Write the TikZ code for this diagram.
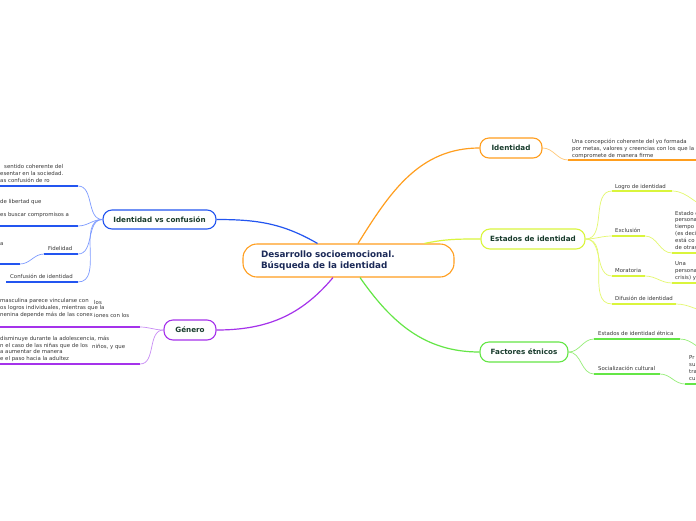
\documentclass[tikz,border=0pt]{standalone}
\usepackage{fontspec}
\setmainfont{DejaVu Sans}
\definecolor{cOrange}{RGB}{255,158,30}
\definecolor{cOrangeL}{RGB}{255,200,120}
\definecolor{cYel}{RGB}{218,245,60}
\definecolor{cYelL}{RGB}{228,248,110}
\definecolor{cGreen}{RGB}{100,230,70}
\definecolor{cGreenL}{RGB}{150,238,120}
\definecolor{cBlue}{RGB}{35,85,240}
\definecolor{cBlueL}{RGB}{125,155,255}
\definecolor{cPurp}{RGB}{165,50,235}
\definecolor{cPurpL}{RGB}{200,140,245}
\definecolor{nodetext}{RGB}{25,60,45}
\definecolor{maintext}{RGB}{28,42,88}
\definecolor{leaftext}{RGB}{55,55,55}
\begin{document}
\begin{tikzpicture}[x=1pt,y=-1pt,
  topic/.style={draw, fill=white, rounded corners=9pt, line width=1.1pt, inner sep=0pt,
    minimum height=20pt, font=\fontsize{7.2}{8}\selectfont\bfseries, text=nodetext},
  mainbox/.style={draw=cOrange, fill=white, rounded corners=14pt, line width=1.1pt,
    inner xsep=18pt, inner ysep=0pt, minimum height=33pt, text width=175pt, align=left,
    font=\fontsize{8.8}{11}\selectfont\bfseries, text=maintext},
  leaf/.style={font=\fontsize{5.4}{6.8}\selectfont, text=leaftext, align=left,
    inner sep=0pt, anchor=base west},
  uline/.style={line width=1.7pt},
  lconn/.style={line width=0.7pt},
  mconn/.style={line width=1.2pt}]
\useasboundingbox (0,0) rectangle (696,520);
\clip (0,0) rectangle (696,520);
\fill[white] (0,0) rectangle (696,520);

% ---------- main and topic nodes ----------
\node[mainbox] (main) at (348.5,260.5) {Desarrollo socioemocional.\\Búsqueda de la identidad};
\node[topic, draw=cOrange, minimum width=62pt] (iden) at (511,148) {Identidad};
\node[topic, draw=cYel, minimum width=104pt] (est) at (533,239) {Estados de identidad};
\node[topic, draw=cGreen, minimum width=88pt] (fac) at (524,352) {Factores étnicos};
\node[topic, draw=cBlue, minimum width=113pt, minimum height=19pt] (idc) at (159.5,219.5) {Identidad vs confusión};
\node[topic, draw=cPurp, minimum width=52pt] (gen) at (190,330) {Género};

% ---------- main connectors ----------
\draw[mconn, cOrange] ([xshift=9.5pt]main.north) to[out=58,in=180] (iden.west);
\draw[mconn, cYel] ([xshift=76pt]main.north) to[out=12,in=180] (est.west);
\draw[mconn, cGreen] ([xshift=11.5pt]main.south) to[out=-55,in=180] (fac.west);
\draw[mconn, cBlue] ([xshift=-31pt]main.north) to[out=150,in=0] (idc.east);
\draw[mconn, cPurp] ([xshift=-15.5pt]main.south) to[out=-130,in=0] (gen.east);

% ---------- Identidad leaf ----------
\coordinate (a1) at (568,160); \coordinate (a1e) at (700,160);
\draw[uline, cOrange] (a1) -- (a1e);
\draw[lconn, cOrangeL] (iden.east) to[out=0,in=180] (a1);
\node[leaf] (ta1) at (572,157) {Una concepción coherente del yo formada\\por metas, valores y creencias con los que la\\compromete de manera firme};

% ---------- Estados leaves ----------
\coordinate (b1) at (612,191); \coordinate (b1e) at (672,191);
\coordinate (b2) at (612,236); \coordinate (b2e) at (645,236);
\coordinate (b3) at (612,276); \coordinate (b3e) at (645,276);
\coordinate (b4) at (612,304); \coordinate (b4e) at (676,304);
\coordinate (b2c) at (672,253); \coordinate (b2ce) at (700,253);
\coordinate (b3c) at (672,283); \coordinate (b3ce) at (700,283);
\coordinate (b1x) at (712,207); \coordinate (b4x) at (712,312);
\foreach \s/\e in {b1/b1e,b2/b2e,b3/b3e,b4/b4e,b2c/b2ce,b3c/b3ce}
  \draw[uline, cYel] (\s) -- (\e);
\foreach \t in {b1,b2,b3,b4}
  \draw[lconn, cYelL] (est.east) to[out=0,in=180] (\t);
\draw[lconn, cYelL] (b1e) to[out=0,in=180] (b1x);
\draw[lconn, cYelL] (b2e) to[out=0,in=180] (b2c);
\draw[lconn, cYelL] (b3e) to[out=0,in=180] (b3c);
\draw[lconn, cYelL] (b4e) to[out=0,in=180] (b4x);
\node[leaf] (tb1) at (615,188) {Logro de identidad};
\node[leaf] (tb2) at (615,232) {Exclusión};
\node[leaf] (tb3) at (615,272) {Moratoria};
\node[leaf] (tb4) at (615,300) {Difusión de identidad};
\node[leaf] (tb2c) at (675,249) {Estado d\\persona\\tiempo\\(es deci\\está co\\de otras};
\node[leaf] (tb3c) at (675,279) {Una\\persona\\crisis) y};

% ---------- Factores leaves ----------
\coordinate (c1) at (594,339); \coordinate (c1e) at (680,339);
\coordinate (c2) at (594,374); \coordinate (c2e) at (660,374);
\coordinate (c2c) at (685,384); \coordinate (c2ce) at (700,384);
\coordinate (c1x) at (712,352);
\foreach \s/\e in {c1/c1e,c2/c2e,c2c/c2ce}
  \draw[uline, cGreen] (\s) -- (\e);
\draw[lconn, cGreenL] (fac.east) to[out=0,in=180] (c1);
\draw[lconn, cGreenL] (fac.east) to[out=0,in=180] (c2);
\draw[lconn, cGreenL] (c1e) to[out=0,in=180] (c1x);
\draw[lconn, cGreenL] (c2e) to[out=0,in=180] (c2c);
\node[leaf] (tc1) at (598,335) {Estados de identidad étnica};
\node[leaf] (tc2) at (598,370) {Socialización cultural};
\node[leaf] (tc2c) at (689,380) {Pr\\su\\tra\\cu};

% ---------- Identidad vs confusion leaves ----------
\coordinate (d1) at (-5,186); \coordinate (d1e) at (78,186);
\coordinate (d2) at (-5,226); \coordinate (d2e) at (78,226);
\coordinate (d3) at (44,254); \coordinate (d3e) at (78,254);
\coordinate (d3c) at (-5,264); \coordinate (d3ce) at (20,264);
\coordinate (d4) at (6,282); \coordinate (d4e) at (78,282);
\foreach \s/\e in {d1/d1e,d2/d2e,d3/d3e,d3c/d3ce,d4/d4e}
  \draw[uline, cBlue] (\s) -- (\e);
\foreach \t in {d1e,d2e,d3e,d4e}
  \draw[lconn, cBlueL] (idc.west) to[out=180,in=0] (\t);
\draw[lconn, cBlueL] (d3) to[out=180,in=0] (d3ce);
\node[leaf] (td1a) at (4,168) {sentido coherente del};
\node[leaf] (td1) at (0,182) {esentar en la sociedad.\\as confusión de ro};
\node[leaf] (td2a) at (0,203) {de libertad que};
\node[leaf] (td2) at (0,216.5) {es buscar compromisos a};
\node[leaf] (td3) at (48,250) {Fidelidad};
\node[leaf] (td3c) at (0,245) {a};
\node[leaf] (td4) at (10,278) {Confusión de identidad};

% ---------- Genero leaves ----------
\coordinate (e1) at (-5,327); \coordinate (e1e) at (140,327);
\coordinate (e2) at (-5,364); \coordinate (e2e) at (140,364);
\draw[uline, cPurp] (e1) -- (e1e);
\draw[uline, cPurp] (e2) -- (e2e);
\draw[lconn, cPurpL] (gen.west) to[out=180,in=0] (e1e);
\draw[lconn, cPurpL] (gen.west) to[out=180,in=0] (e2e);
\node[leaf] (te1) at (0,316) {masculina parece vincularse con\\os logros individuales, mientras que la\\nenina depende más de las conex};
\node[leaf] (te1b) at (94,304) {los};
\node[leaf] (te1c) at (94,317) {iones con los};
\node[leaf, font=\fontsize{5.4}{6.4}\selectfont] (te2) at (0,360) {disminuye durante la adolescencia, más\\n el caso de las niñas que de los\\a aumentar de manera\\e el paso hacia la adultez};
\node[leaf] (te2b) at (92,348) {niños, y que};
\end{tikzpicture}
\end{document}
